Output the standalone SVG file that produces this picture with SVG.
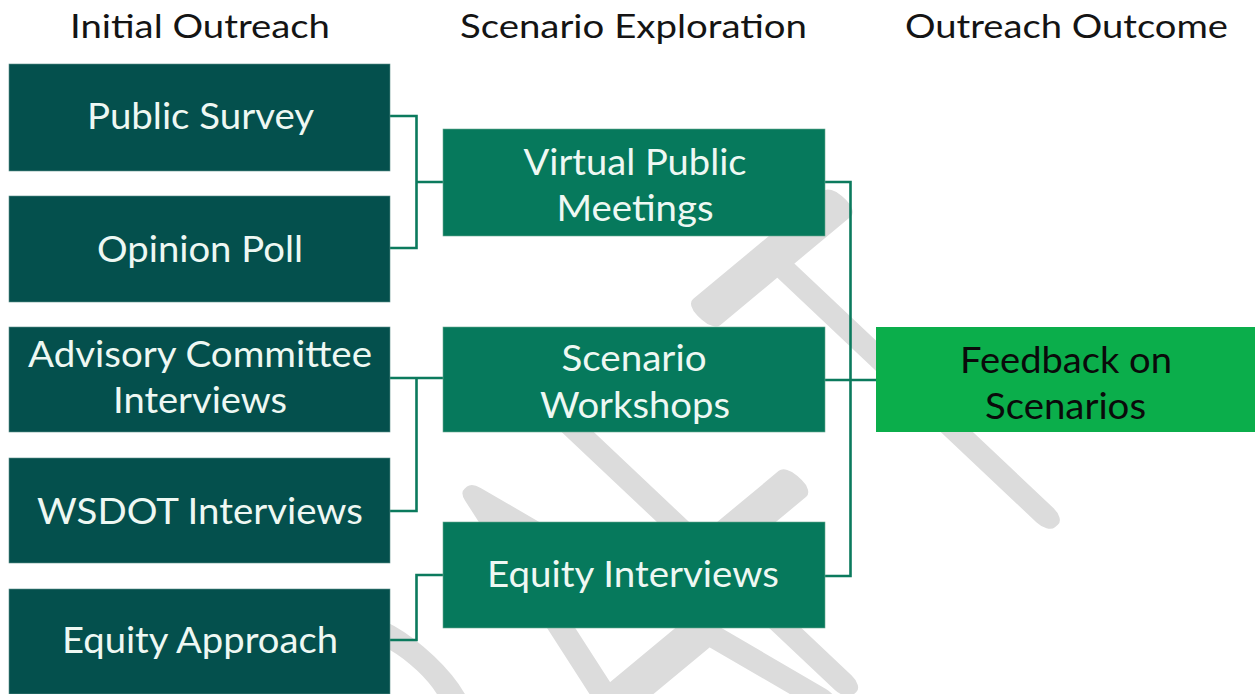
<svg xmlns="http://www.w3.org/2000/svg" width="1255" height="694" viewBox="0 0 1255 694">
<style>
.title{font-family:Lato,"Liberation Sans",sans-serif;font-size:33.5px;fill:#141414;text-anchor:middle}
.lbl{font-family:Lato,"Liberation Sans",sans-serif;font-size:37px;fill:#eef8f3;text-anchor:middle}
.lblk{font-family:Lato,"Liberation Sans",sans-serif;font-size:37px;fill:#0a0a0a;text-anchor:middle}
.dark{fill:#04504d;stroke:#5f8f8a;stroke-width:0.6}
.mid{fill:#06795c;stroke:#6aa892;stroke-width:0.6}
.bright{fill:#0bae4b}
.conn{fill:none;stroke:#0b7a5d;stroke-width:2.6}
.wm{font-family:Lato,"Liberation Sans",sans-serif;font-weight:100;font-size:540px;fill:#dcdcdc;stroke:#dcdcdc;stroke-width:26px;stroke-linejoin:round;stroke-linecap:round;vector-effect:non-scaling-stroke;text-anchor:middle}
</style>
<rect width="1255" height="694" fill="#ffffff"/>
<g id="watermark" transform="matrix(0.4463,-0.3705,0.7273,0.6864,1044.6,515.3)">
<text class="wm" x="-1380" y="0">D</text>
<text class="wm" x="-1035" y="0">R</text>
<text class="wm" x="-655" y="0">A</text>
<text class="wm" x="-365" y="0">F</text>
<text class="wm" x="0" y="0">T</text>
</g>
<g id="headers">
<text class="title" x="200" y="37.5" textLength="260" lengthAdjust="spacingAndGlyphs">Initial Outreach</text>
<text class="title" x="633.5" y="37.5" textLength="347" lengthAdjust="spacingAndGlyphs">Scenario Exploration</text>
<text class="title" x="1066.5" y="37.5" textLength="323" lengthAdjust="spacingAndGlyphs">Outreach Outcome</text>
</g>
<g id="connectors" class="conn">
<path d="M390,116 H416.5 V248 H390 M416.5,182 H443"/>
<path d="M390,378 H443 M416.5,378 V511 H390"/>
<path d="M390,640 H416.5 V575 H443"/>
<path d="M825,182 H850.5 V576 H825 M825,380 H876"/>
</g>
<g id="public-survey"><rect class="dark" x="9" y="64" width="381" height="107"/><text class="lbl" x="200.5" y="128.5" textLength="227" lengthAdjust="spacingAndGlyphs">Public Survey</text></g>
<g id="opinion-poll"><rect class="dark" x="9" y="196" width="381" height="106"/><text class="lbl" x="200" y="262" textLength="206" lengthAdjust="spacingAndGlyphs">Opinion Poll</text></g>
<g id="advisory-committee"><rect class="dark" x="9" y="327" width="381" height="105"/><text class="lbl" x="200" y="367" textLength="344" lengthAdjust="spacingAndGlyphs">Advisory Committee</text><text class="lbl" x="200" y="413" textLength="174" lengthAdjust="spacingAndGlyphs">Interviews</text></g>
<g id="wsdot-interviews"><rect class="dark" x="9" y="458" width="381" height="105"/><text class="lbl" x="200" y="524" textLength="326" lengthAdjust="spacingAndGlyphs">WSDOT Interviews</text></g>
<g id="equity-approach"><rect class="dark" x="9" y="589" width="381" height="105"/><text class="lbl" x="200" y="653" textLength="276" lengthAdjust="spacingAndGlyphs">Equity Approach</text></g>
<g id="virtual-public-meetings"><rect class="mid" x="443" y="129" width="382" height="107"/><text class="lbl" x="635" y="175" textLength="223" lengthAdjust="spacingAndGlyphs">Virtual Public</text><text class="lbl" x="635" y="220.5" textLength="157" lengthAdjust="spacingAndGlyphs">Meetings</text></g>
<g id="scenario-workshops"><rect class="mid" x="443" y="327" width="382" height="105"/><text class="lbl" x="634" y="371" textLength="145" lengthAdjust="spacingAndGlyphs">Scenario</text><text class="lbl" x="635" y="418" textLength="190" lengthAdjust="spacingAndGlyphs">Workshops</text></g>
<g id="equity-interviews"><rect class="mid" x="443" y="522" width="382" height="106"/><text class="lbl" x="633" y="587" textLength="292" lengthAdjust="spacingAndGlyphs">Equity Interviews</text></g>
<g id="feedback-on-scenarios"><rect class="bright" x="876" y="327" width="379" height="105"/><text class="lblk" x="1066" y="373" textLength="212" lengthAdjust="spacingAndGlyphs">Feedback on</text><text class="lblk" x="1065.5" y="419" textLength="161" lengthAdjust="spacingAndGlyphs">Scenarios</text></g>
</svg>
